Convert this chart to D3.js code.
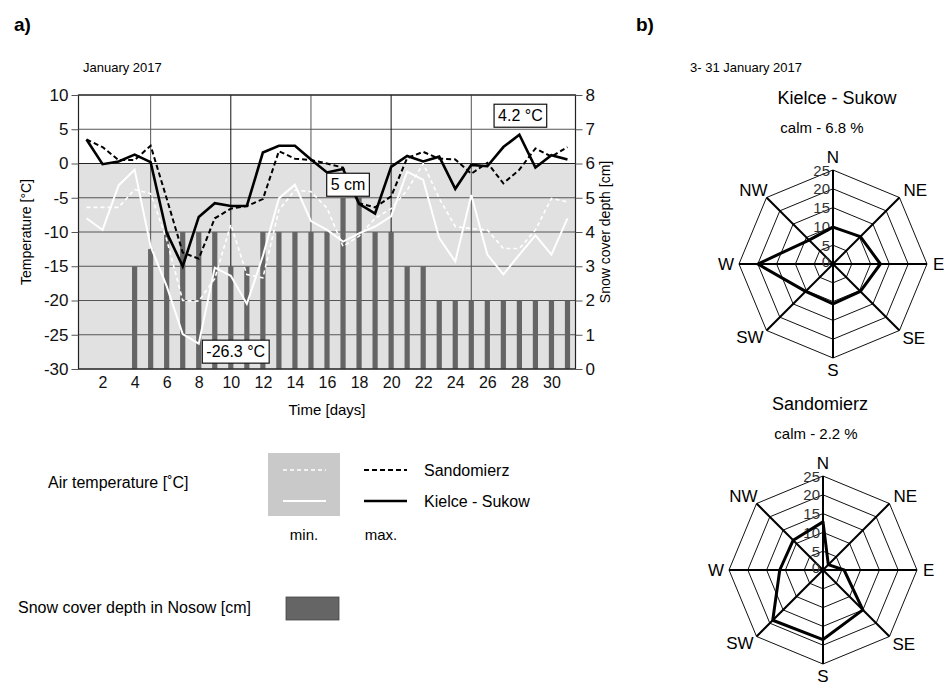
<!DOCTYPE html>
<html>
<head>
<meta charset="utf-8">
<script src="https://cdn.jsdelivr.net/npm/d3@7"></script>
<style>
  body { margin: 0; background: #fff; }
  svg { font-family: "Liberation Sans", Arial, sans-serif; }
</style>
</head>
<body>
<svg id="chart" width="946" height="688"></svg>
<script>
// ---- Data: January 2017 ----
const days = d3.range(1, 32);
const kielceMax = [3.5, -0.1, 0.3, 1.3, 0.2, -10.1, -15.0, -7.8, -5.8, -6.2, -6.2, 1.6, 2.6, 2.6, 0.6, -1.3, -0.8, -5.9, -7.3, -0.5, 1.1, 0.3, 1.0, -3.7, -0.2, -0.4, 2.4, 4.2, -0.6, 1.2, 0.6];
const sandMax   = [3.5, 2.4, 0.5, 0.5, 2.6, -5.1, -13.0, -13.9, -8.0, -6.6, -6.2, -5.2, 1.8, 0.7, 0.5, 0.0, -0.6, -5.8, -6.4, -4.8, 0.8, 1.7, 0.7, 0.6, -1.5, 0.1, -2.9, -0.9, 2.2, 1.0, 2.4];
const kielceMin = [-8.0, -9.7, -3.2, -0.9, -12.1, -17.9, -24.9, -26.3, -15.2, -16.4, -20.5, -13.5, -5.1, -3.1, -8.4, -9.7, -11.4, -10.2, -9.2, -7.7, -1.2, -2.4, -10.9, -14.3, -4.6, -13.3, -16.2, -13.3, -10.5, -13.3, -8.0];
const sandMin   = [-6.4, -6.4, -6.4, -3.8, -4.4, -11.1, -20.0, -20.1, -16.8, -8.9, -16.2, -16.7, -6.8, -3.9, -4.1, -6.5, -12.1, -10.6, -8.0, -6.6, -3.9, 0.0, -5.1, -9.2, -9.5, -9.7, -12.4, -12.4, -9.7, -5.1, -5.6];
const snowDepth = [0, 0, 0, 3, 3.5, 4, 4, 4, 4, 3, 3, 4, 4, 4, 4, 4, 5, 5, 4, 4, 3, 3, 2, 2, 2, 2, 2, 2, 2, 2, 2];

const tempTicks = [10, 5, 0, -5, -10, -15, -20, -25, -30];
const snowTicks = [0, 1, 2, 3, 4, 5, 6, 7, 8];
const dayTicks = [2, 4, 6, 8, 10, 12, 14, 16, 18, 20, 22, 24, 26, 28, 30];
const dayGrid = [5, 10, 15, 20, 25];

// ---- Wind roses, 3-31 January 2017 (% of observations) ----
const directions = ["N", "NE", "E", "SE", "S", "SW", "W", "NW"];
const kielceWind = [9.8, 10.3, 12.6, 10.3, 10.6, 10.3, 20.0, 9.0];
const sandWind   = [12.8, 2.0, 5.6, 15.0, 18.5, 18.9, 11.5, 11.2];
const kielceCalm = 6.8;
const sandCalm = 2.2;
const ringTicks = [0, 5, 10, 15, 20, 25];

const svg = d3.select("#chart");

// ================= a) temperature and snow cover =================
const L = 78.5, R = 575.5, T = 95, B = 369;
const x = d3.scaleLinear().domain([0.5, 31.5]).range([L, R]);
const y = d3.scaleLinear().domain([-30, 10]).range([B, T]);
const ys = d3.scaleLinear().domain([0, 8]).range([B, T]);

svg.append("text").attr("x", 14).attr("y", 31).attr("font-size", 19).attr("font-weight", "bold").text("a)");
svg.append("text").attr("x", 83).attr("y", 72).attr("font-size", 13).text("January 2017");

// frost zone shading
svg.append("rect").attr("x", L).attr("y", y(0)).attr("width", R - L).attr("height", y(-30) - y(0)).attr("fill", "#e1e1e1");

const grid = svg.append("g");
grid.selectAll("line.h").data(tempTicks).join("line")
  .attr("x1", L).attr("x2", R).attr("y1", d => y(d)).attr("y2", d => y(d))
  .attr("stroke", d => d === 0 ? "#222" : "#555").attr("stroke-width", 1);
grid.selectAll("line.v").data(dayGrid).join("line")
  .attr("x1", d => x(d)).attr("x2", d => x(d)).attr("y1", T).attr("y2", B)
  .attr("stroke", d => d % 10 === 0 ? "#111" : "#555").attr("stroke-width", 1);

// snow cover bars
const snowData = days.map((d, i) => ({ day: d, v: snowDepth[i] })).filter(d => d.v > 0);
svg.append("g").selectAll("rect").data(snowData).join("rect")
  .attr("x", d => x(d.day) - 2.6).attr("width", 5.2)
  .attr("y", d => ys(d.v)).attr("height", d => ys(0) - ys(d.v))
  .attr("fill", "#656565");

const series = arr => days.map((d, i) => ({ day: d, v: arr[i] }));
const line = d3.line().x(d => x(d.day)).y(d => y(d.v));

svg.append("path").datum(series(sandMin)).attr("d", line).attr("fill", "none")
  .attr("stroke", "#fff").attr("stroke-width", 1.6).attr("stroke-dasharray", "4,3");
svg.append("path").datum(series(kielceMin)).attr("d", line).attr("fill", "none")
  .attr("stroke", "#fff").attr("stroke-width", 2);
svg.append("path").datum(series(sandMax)).attr("d", line).attr("fill", "none")
  .attr("stroke", "#000").attr("stroke-width", 2).attr("stroke-dasharray", "5,3");
svg.append("path").datum(series(kielceMax)).attr("d", line).attr("fill", "none")
  .attr("stroke", "#000").attr("stroke-width", 2.6);

// plot frame
svg.append("rect").attr("x", L).attr("y", T).attr("width", R - L).attr("height", B - T)
  .attr("fill", "none").attr("stroke", "#222").attr("stroke-width", 1.2);

// axes
const fmt = d => String(d).replace("\u2212", "-");
const leftAxis = svg.append("g").attr("transform", `translate(${L},0)`)
  .call(d3.axisLeft(y).tickValues(tempTicks).tickSize(7).tickPadding(3).tickFormat(fmt));
const rightAxis = svg.append("g").attr("transform", `translate(${R},0)`)
  .call(d3.axisRight(ys).tickValues(snowTicks).tickSize(7).tickPadding(3).tickFormat(fmt));
const bottomAxis = svg.append("g").attr("transform", `translate(0,${B})`)
  .call(d3.axisBottom(x).tickValues(dayTicks).tickSize(0).tickPadding(8).tickFormat(fmt));
[leftAxis, rightAxis, bottomAxis].forEach(a => {
  a.select(".domain").remove();
  a.selectAll("text").attr("font-family", "Liberation Sans, Arial, sans-serif").attr("fill", "#111");
  a.selectAll("line").attr("stroke", "#555");
});
leftAxis.selectAll("text").attr("font-size", 17);
rightAxis.selectAll("text").attr("font-size", 17);
bottomAxis.selectAll("text").attr("font-size", 16);

svg.append("text").attr("x", (L + R) / 2).attr("y", 415).attr("text-anchor", "middle")
  .attr("font-size", 15).text("Time [days]");
svg.append("text").attr("transform", `translate(31,${(T + B) / 2}) rotate(-90)`)
  .attr("text-anchor", "middle").attr("font-size", 14).text("Temperature [°C]");
svg.append("text").attr("transform", `translate(610,${(T + B) / 2}) rotate(-90)`)
  .attr("text-anchor", "middle").attr("font-size", 14).text("Snow cover depth [cm]");

// value callouts
function callout(cx, cy, label) {
  const g = svg.append("g");
  const t = g.append("text").attr("x", cx).attr("y", cy).attr("text-anchor", "middle")
    .attr("dominant-baseline", "central").attr("font-size", 16).text(label);
  const bb = t.node().getBBox();
  g.insert("rect", "text").attr("x", bb.x - 4).attr("y", cy - 11.5)
    .attr("width", bb.width + 8).attr("height", 23)
    .attr("fill", "#fff").attr("stroke", "#111").attr("stroke-width", 1.2);
}
callout(x(8) + 37, y(kielceMin[7]) + 8, `${kielceMin[7]} °C`);
callout(x(17) + 5, ys(snowDepth[16]) - 13, `${snowDepth[16]} cm`);
callout(x(28) + 1, y(kielceMax[27]) - 19, `${kielceMax[27]} °C`);

// legend
svg.append("text").attr("x", 48).attr("y", 488).attr("font-size", 16).text("Air temperature [˚C]");
svg.append("rect").attr("x", 268).attr("y", 453).attr("width", 72).attr("height", 63).attr("fill", "#c9c9c9");
svg.append("line").attr("x1", 283).attr("x2", 326).attr("y1", 470).attr("y2", 470)
  .attr("stroke", "#fff").attr("stroke-width", 1.6).attr("stroke-dasharray", "4,3");
svg.append("line").attr("x1", 283).attr("x2", 326).attr("y1", 501).attr("y2", 501)
  .attr("stroke", "#fff").attr("stroke-width", 2);
svg.append("line").attr("x1", 364).attr("x2", 407).attr("y1", 470).attr("y2", 470)
  .attr("stroke", "#000").attr("stroke-width", 2).attr("stroke-dasharray", "5,3");
svg.append("line").attr("x1", 364).attr("x2", 407).attr("y1", 501).attr("y2", 501)
  .attr("stroke", "#000").attr("stroke-width", 2.6);
svg.append("text").attr("x", 424).attr("y", 476).attr("font-size", 16).text("Sandomierz");
svg.append("text").attr("x", 424).attr("y", 507).attr("font-size", 16).text("Kielce - Sukow");
svg.append("text").attr("x", 304).attr("y", 540).attr("text-anchor", "middle").attr("font-size", 15).text("min.");
svg.append("text").attr("x", 381).attr("y", 540).attr("text-anchor", "middle").attr("font-size", 15).text("max.");
svg.append("text").attr("x", 18).attr("y", 613).attr("font-size", 16).text("Snow cover depth in Nosow [cm]");
svg.append("rect").attr("x", 286).attr("y", 597).attr("width", 53).attr("height", 23)
  .attr("fill", "#656565").attr("stroke", "#444").attr("stroke-width", 0.8);

// ================= b) wind roses =================
svg.append("text").attr("x", 636).attr("y", 31).attr("font-size", 19).attr("font-weight", "bold").text("b)");
svg.append("text").attr("x", 690).attr("y", 72).attr("font-size", 13).text("3- 31 January 2017");

const rr = d3.scaleLinear().domain([0, 25]).range([0, 94]);
const ang = i => i * Math.PI / 4;

function windRose(cx, cy, values, title, calm, titleX, calmX) {
  svg.append("text").attr("x", titleX).attr("y", cy - 160).attr("text-anchor", "middle")
    .attr("font-size", 18).text(title);
  svg.append("text").attr("x", calmX).attr("y", cy - 131).attr("text-anchor", "middle")
    .attr("font-size", 15).text(`calm - ${calm} %`);

  const g = svg.append("g").attr("transform", `translate(${cx},${cy})`);
  const ring = d3.lineRadial().angle((d, i) => ang(i)).curve(d3.curveLinearClosed);

  ringTicks.slice(1).forEach(t => {
    g.append("path").attr("d", ring.radius(rr(t))(directions))
      .attr("fill", "none").attr("stroke", "#111").attr("stroke-width", 1);
  });
  g.selectAll("line.spoke").data(directions).join("line")
    .attr("x1", 0).attr("y1", 0)
    .attr("x2", (d, i) => rr(25) * Math.sin(ang(i)))
    .attr("y2", (d, i) => -rr(25) * Math.cos(ang(i)))
    .attr("stroke", "#000").attr("stroke-width", 2);

  g.selectAll("text.tick").data(ringTicks).join("text")
    .attr("x", -3).attr("y", d => -rr(d) - (d === 0 ? 3 : 0))
    .attr("text-anchor", "end").attr("dominant-baseline", "central")
    .attr("font-size", 15).attr("fill", "#333").text(d => d);

  const poly = d3.lineRadial().angle((d, i) => ang(i)).radius(d => rr(d)).curve(d3.curveLinearClosed);
  g.append("path").attr("d", poly(values)).attr("fill", "none")
    .attr("stroke", "#000").attr("stroke-width", 3).attr("stroke-linejoin", "round");

  const r = rr(25), k = r * Math.SQRT1_2;
  const labelPos = {
    N:  [0, -r - 13, "middle"], NE: [k + 4, -k - 7, "start"], E: [r + 6, 0, "start"],
    SE: [k + 3, k + 8, "start"], S: [0, r + 12, "middle"], SW: [-k - 3, k + 7, "end"],
    W:  [-r - 5, 0, "end"], NW: [-k + 1, -k - 7, "end"]
  };
  directions.forEach(d => {
    const [lx, ly, anchor] = labelPos[d];
    g.append("text").attr("x", lx).attr("y", ly).attr("text-anchor", anchor)
      .attr("dominant-baseline", "central").attr("font-size", 17).text(d);
  });
}

windRose(833, 264, kielceWind, "Kielce - Sukow", kielceCalm, 837, 822);
windRose(823, 570, sandWind, "Sandomierz", sandCalm, 820, 816);
</script>
</body>
</html>
